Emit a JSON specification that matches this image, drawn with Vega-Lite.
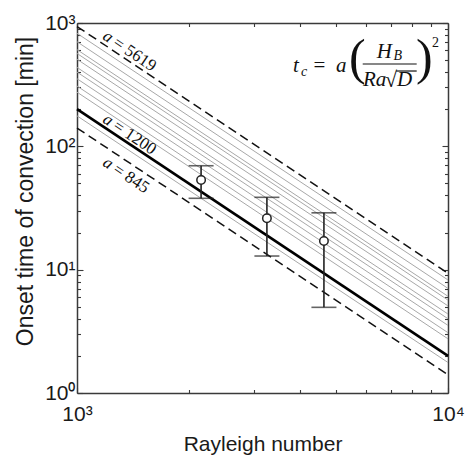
{
  "$schema": "https://vega.github.io/schema/vega-lite/v6.json",
  "width": 371,
  "height": 370,
  "autosize": {"type": "none"},
  "padding": {"left": 77, "top": 23, "right": 22, "bottom": 63},
  "background": "white",
  "config": {
    "view": {"stroke": null},
    "axis": {
      "grid": false,
      "domainColor": "#3a3a3a",
      "domainWidth": 1.5,
      "tickColor": "#3a3a3a",
      "tickWidth": 1.1,
      "labelFont": "Liberation Sans",
      "labelFontSize": 21,
      "labelColor": "#1a1a1a",
      "labelFlush": false,
      "labelOverlap": false,
      "labelBound": false,
      "titleFont": "Liberation Sans",
      "titleFontWeight": "normal",
      "titleColor": "#1a1a1a"
    }
  },
  "datasets": {
    "lines": [
      {"a": 1060, "kind": "gray", "Ra": 1000, "t": 176.7}, {"a": 1060, "kind": "gray", "Ra": 10000, "t": 1.767},
      {"a": 1650, "kind": "gray", "Ra": 1000, "t": 275.0}, {"a": 1650, "kind": "gray", "Ra": 10000, "t": 2.75},
      {"a": 1850, "kind": "gray", "Ra": 1000, "t": 308.3}, {"a": 1850, "kind": "gray", "Ra": 10000, "t": 3.083},
      {"a": 2120, "kind": "gray", "Ra": 1000, "t": 353.3}, {"a": 2120, "kind": "gray", "Ra": 10000, "t": 3.533},
      {"a": 2400, "kind": "gray", "Ra": 1000, "t": 400.0}, {"a": 2400, "kind": "gray", "Ra": 10000, "t": 4.0},
      {"a": 2620, "kind": "gray", "Ra": 1000, "t": 436.7}, {"a": 2620, "kind": "gray", "Ra": 10000, "t": 4.367},
      {"a": 3050, "kind": "gray", "Ra": 1000, "t": 508.3}, {"a": 3050, "kind": "gray", "Ra": 10000, "t": 5.083},
      {"a": 3400, "kind": "gray", "Ra": 1000, "t": 566.7}, {"a": 3400, "kind": "gray", "Ra": 10000, "t": 5.667},
      {"a": 3650, "kind": "gray", "Ra": 1000, "t": 608.3}, {"a": 3650, "kind": "gray", "Ra": 10000, "t": 6.083},
      {"a": 4230, "kind": "gray", "Ra": 1000, "t": 705.0}, {"a": 4230, "kind": "gray", "Ra": 10000, "t": 7.05},
      {"a": 4950, "kind": "gray", "Ra": 1000, "t": 825.0}, {"a": 4950, "kind": "gray", "Ra": 10000, "t": 8.25},
      {"a": 5619, "kind": "dashed", "Ra": 1000, "t": 936.5}, {"a": 5619, "kind": "dashed", "Ra": 10000, "t": 9.365},
      {"a": 845, "kind": "dashed", "Ra": 1000, "t": 140.8}, {"a": 845, "kind": "dashed", "Ra": 10000, "t": 1.408},
      {"a": 1200, "kind": "black", "Ra": 1000, "t": 200.0}, {"a": 1200, "kind": "black", "Ra": 10000, "t": 2.0}
    ],
    "obs": [
      {"Ra": 2160, "t": 53.3, "lo": 37.9, "hi": 69.6},
      {"Ra": 3250, "t": 26.1, "lo": 12.9, "hi": 38.6},
      {"Ra": 4630, "t": 17.1, "lo": 4.95, "hi": 28.9}
    ],
    "lab_a": [
      {"Ra": 1166, "t": 750.2, "s": "a"},
      {"Ra": 1166, "t": 158.3, "s": "a"},
      {"Ra": 1166, "t": 70.5, "s": "a"}
    ],
    "lab_v": [
      {"Ra": 1243, "t": 659.4, "s": "= 5619"},
      {"Ra": 1243, "t": 139.2, "s": "= 1200"},
      {"Ra": 1243, "t": 62.0, "s": "= 845"}
    ],
    "f_it": [
      {"Ra": 3821, "t": 402.7, "s": "t"},
      {"Ra": 4990, "t": 402.7, "s": "a"},
      {"Ra": 6424, "t": 517.2, "s": "H"},
      {"Ra": 5901, "t": 308.3, "s": "Ra"},
      {"Ra": 7287, "t": 308.3, "s": "D"}
    ],
    "f_sub": [
      {"Ra": 4016, "t": 371.7, "s": "c"},
      {"Ra": 7131, "t": 501.2, "s": "B"}
    ],
    "f_up": [
      {"Ra": 4340, "t": 402.7, "s": "="}
    ],
    "f_sqrt": [
      {"Ra": 6764, "t": 300.0, "s": "√"}
    ],
    "f_paren": [
      {"Ra": 5410, "t": 385.8, "s": "("},
      {"Ra": 8199, "t": 385.8, "s": ")"}
    ],
    "f_sup": [
      {"Ra": 9055, "t": 639, "s": "2"}
    ],
    "f_bar": [
      {"Ra": 5890, "Ra2": 8234, "t": 465.0},
      {"Ra": 7250, "Ra2": 8234, "t": 408.0}
    ]
  },
  "resolve": {"axis": {"x": "independent", "y": "independent"}},
  "encoding": {
    "x": {"field": "Ra", "type": "quantitative", "scale": {"type": "log", "domain": [1000, 10000], "nice": false}, "axis": null},
    "y": {"field": "t", "type": "quantitative", "scale": {"type": "log", "domain": [1, 1000], "nice": false}, "axis": null}
  },
  "layer": [
    {
      "data": {"name": "lines"},
      "transform": [{"filter": "datum.kind == 'gray'"}],
      "mark": {"type": "line", "color": "#a8a8a8", "strokeWidth": 1},
      "encoding": {
        "x": {"field": "Ra", "type": "quantitative", "scale": {"type": "log", "domain": [1000, 10000], "nice": false},
          "axis": {"orient": "bottom", "title": "Rayleigh number", "titleFontSize": 21, "titlePadding": 7,
            "values": [1000, 2000, 3000, 4000, 5000, 6000, 7000, 8000, 9000, 10000],
            "labelExpr": "datum.value == 1000 ? '10³' : datum.value == 10000 ? '10⁴' : ''",
            "labelPadding": 16,
            "tickSize": {"condition": {"test": "indexof([1000, 10000], datum.value) < 0", "value": -3.5}, "value": -6}}},
        "y": {"field": "t", "type": "quantitative", "scale": {"type": "log", "domain": [1, 1000], "nice": false},
          "axis": {"orient": "left", "title": "Onset time of convection [min]", "titleFontSize": 23, "titlePadding": 7, "titleY": 168,
            "values": [1, 2, 3, 4, 5, 6, 7, 8, 9, 10, 20, 30, 40, 50, 60, 70, 80, 90, 100, 200, 300, 400, 500, 600, 700, 800, 900, 1000],
            "labelExpr": "datum.value == 1 ? '10⁰' : datum.value == 10 ? '10¹' : datum.value == 100 ? '10²' : datum.value == 1000 ? '10³' : ''",
            "labelPadding": 8,
            "tickSize": {"condition": {"test": "indexof([1, 10, 100, 1000], datum.value) < 0", "value": -3.5}, "value": -6}}},
        "detail": {"field": "a", "type": "nominal"}
      }
    },
    {
      "data": {"name": "lines"},
      "transform": [{"filter": "datum.kind == 'dashed'"}],
      "mark": {"type": "line", "color": "#111111", "strokeWidth": 1.5, "strokeDash": [9, 5]},
      "encoding": {
        "x": {"field": "Ra", "type": "quantitative", "scale": {"type": "log", "domain": [1000, 10000], "nice": false},
          "axis": {"orient": "top", "title": null, "labels": false,
            "values": [1000, 2000, 3000, 4000, 5000, 6000, 7000, 8000, 9000, 10000],
            "tickSize": {"condition": {"test": "indexof([1000, 10000], datum.value) < 0", "value": -3.5}, "value": -6}}},
        "y": {"field": "t", "type": "quantitative", "scale": {"type": "log", "domain": [1, 1000], "nice": false},
          "axis": {"orient": "right", "title": null, "labels": false,
            "values": [1, 2, 3, 4, 5, 6, 7, 8, 9, 10, 20, 30, 40, 50, 60, 70, 80, 90, 100, 200, 300, 400, 500, 600, 700, 800, 900, 1000],
            "tickSize": {"condition": {"test": "indexof([1, 10, 100, 1000], datum.value) < 0", "value": -3.5}, "value": -6}}},
        "detail": {"field": "a", "type": "nominal"}
      }
    },
    {
      "data": {"name": "lines"},
      "transform": [{"filter": "datum.kind == 'black'"}],
      "mark": {"type": "line", "color": "#000000", "strokeWidth": 2.6},
      "encoding": {}
    },
    {
      "data": {"name": "obs"},
      "mark": {"type": "rule", "color": "#222222", "strokeWidth": 1.6},
      "encoding": {
        "y": {"field": "lo", "type": "quantitative", "scale": {"type": "log", "domain": [1, 1000], "nice": false}, "axis": null},
        "y2": {"field": "hi"}
      }
    },
    {
      "data": {"name": "obs"},
      "mark": {"type": "tick", "orient": "horizontal", "color": "#222222", "size": 25, "thickness": 1.6},
      "encoding": {
        "y": {"field": "lo", "type": "quantitative", "scale": {"type": "log", "domain": [1, 1000], "nice": false}, "axis": null}
      }
    },
    {
      "data": {"name": "obs"},
      "mark": {"type": "tick", "orient": "horizontal", "color": "#222222", "size": 25, "thickness": 1.6},
      "encoding": {
        "y": {"field": "hi", "type": "quantitative", "scale": {"type": "log", "domain": [1, 1000], "nice": false}, "axis": null}
      }
    },
    {
      "data": {"name": "obs"},
      "mark": {"type": "point", "shape": "circle", "filled": true, "fill": "white", "stroke": "#222222", "strokeWidth": 1.5, "size": 72, "opacity": 1},
      "encoding": {}
    },
    {
      "data": {"name": "lab_a"},
      "mark": {"type": "text", "font": "Liberation Serif", "fontStyle": "italic", "fontSize": 17, "align": "left", "baseline": "alphabetic", "angle": 33.7, "color": "#111111"},
      "encoding": {"text": {"field": "s"}}
    },
    {
      "data": {"name": "lab_v"},
      "mark": {"type": "text", "font": "Liberation Serif", "fontSize": 17, "align": "left", "baseline": "alphabetic", "angle": 33.7, "color": "#111111"},
      "encoding": {"text": {"field": "s"}}
    },
    {
      "data": {"name": "f_it"},
      "mark": {"type": "text", "font": "Liberation Serif", "fontStyle": "italic", "fontSize": 21, "align": "left", "baseline": "alphabetic", "color": "#111111"},
      "encoding": {"text": {"field": "s"}}
    },
    {
      "data": {"name": "f_sub"},
      "mark": {"type": "text", "font": "Liberation Serif", "fontStyle": "italic", "fontSize": 14, "align": "left", "baseline": "alphabetic", "color": "#111111"},
      "encoding": {"text": {"field": "s"}}
    },
    {
      "data": {"name": "f_up"},
      "mark": {"type": "text", "font": "Liberation Serif", "fontSize": 21, "align": "left", "baseline": "alphabetic", "color": "#111111"},
      "encoding": {"text": {"field": "s"}}
    },
    {
      "data": {"name": "f_sqrt"},
      "mark": {"type": "text", "font": "Liberation Serif", "fontSize": 22, "align": "left", "baseline": "alphabetic", "color": "#111111"},
      "encoding": {"text": {"field": "s"}}
    },
    {
      "data": {"name": "f_paren"},
      "mark": {"type": "text", "font": "Liberation Serif", "fontSize": 50, "align": "left", "baseline": "alphabetic", "color": "#111111"},
      "encoding": {"text": {"field": "s"}}
    },
    {
      "data": {"name": "f_sup"},
      "mark": {"type": "text", "font": "Liberation Serif", "fontSize": 14, "align": "left", "baseline": "alphabetic", "color": "#111111"},
      "encoding": {"text": {"field": "s"}}
    },
    {
      "data": {"name": "f_bar"},
      "mark": {"type": "rule", "color": "#111111", "strokeWidth": 1.2},
      "encoding": {"x2": {"field": "Ra2"}}
    }
  ]
}
